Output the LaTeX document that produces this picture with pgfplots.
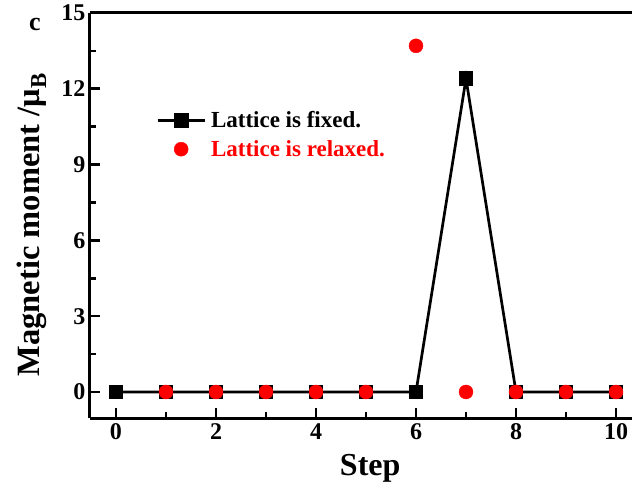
\documentclass[border=0pt]{standalone}
\usepackage{pgfplots}
\pgfplotsset{compat=1.18}
\usepackage{fontspec}
\setmainfont{Liberation Serif}

% magnetic moment per optimisation step
\pgfplotstableread{
step  m
0     0
1     0
2     0
3     0
4     0
5     0
6     0
7     12.4
8     0
9     0
10    0
}\fixedtab
\pgfplotstableread{
step  m
1     0
2     0
3     0
4     0
5     0
6     13.7
7     0
8     0
9     0
10    0
}\relaxedtab

\begin{document}
\begin{tikzpicture}
\useasboundingbox (-90pt,-72pt) rectangle (542pt,418pt);
\begin{axis}[
  at={(0pt,0pt)}, anchor=south west,
  scale only axis, width=542pt, height=405pt,
  xmin=-0.52, xmax=10.32, ymin=-1.03, ymax=15,
  axis x line*=box, axis y line*=left,
  xtick pos=bottom, ytick pos=left,
  axis line style={line width=3pt, black},
  xtick={0,2,...,10}, minor x tick num=1,
  ytick={0,3,...,15}, minor y tick num=1,
  tick align=inside,
  major tick length=10pt, minor tick length=6pt,
  every tick/.style={line width=2.6pt, black},
  /pgf/number format/assume math mode=true,
  ticklabel style={font=\bfseries\fontsize{24}{26}\selectfont},
  xticklabel style={yshift=-2pt},
  yticklabel style={xshift=-1pt},
  every axis x label/.style={at={(axis description cs:0.517,0)}, anchor=center, yshift=-50pt},
  every axis y label/.style={at={([xshift=-58pt]axis description cs:0,0.477)}, rotate=90, anchor=center},
  xlabel={\bfseries\fontsize{32}{34}\selectfont Step},
  ylabel={\bfseries\fontsize{32.5}{34}\selectfont Magnetic moment /μ\textsubscript{B}},
  legend image code/.code={\draw[mark repeat=2,mark phase=2,#1] plot coordinates {(0pt,0pt)(23.5pt,0pt)(47pt,0pt)};},
  legend cell align=left,
  legend style={draw=none, fill=none, at={(axis description cs:0.122,0.764)}, anchor=north west,
    font=\bfseries\fontsize{23}{24}\selectfont, row sep=5pt, inner sep=0pt,
    nodes={inner sep=3pt}, /tikz/every odd column/.append style={column sep=2pt}},
  clip=false,
]
\addplot[black, line width=2.7pt, mark=square*, mark size=6pt, mark options={solid}]
  table[x=step, y=m] {\fixedtab};
\addlegendentry{Lattice is fixed.}
\addplot[only marks, red, mark=*, mark size=7pt]
  table[x=step, y=m] {\relaxedtab};
\addlegendentry{\textcolor{red}{Lattice is relaxed.}}
\end{axis}
\node[font=\bfseries\fontsize{26}{28}\selectfont] at (-55pt,394pt) {c};
\end{tikzpicture}
\end{document}
